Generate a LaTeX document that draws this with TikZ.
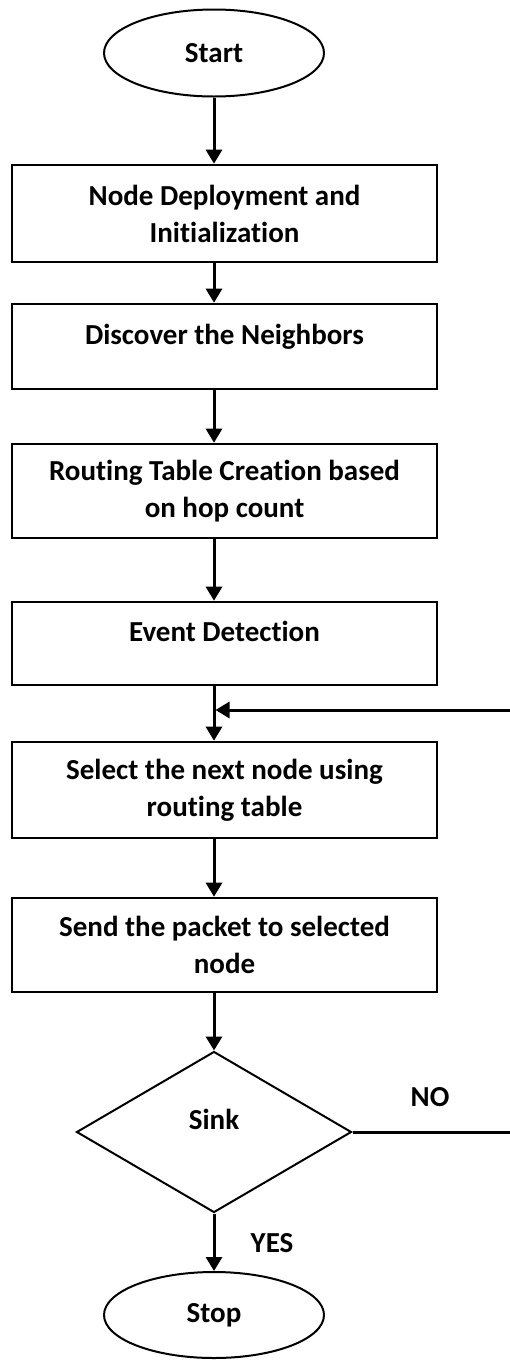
\documentclass[tikz,border=0pt]{standalone}
\usepackage{fontspec}
\setmainfont{Carlito}[RawFeature={-liga;-clig;-calt;-ccmp;-rlig}]
\usetikzlibrary{shapes.geometric,arrows.meta}

\begin{document}
\begin{tikzpicture}[x=1pt,y=-1pt,font=\fontsize{29}{37}\selectfont\bfseries,
  procbox/.style={draw, line width=2.6pt, minimum width=425pt, align=center, inner sep=0pt},
  onebox/.style={procbox, text height=19pt, text depth=24pt},
  termnode/.style={draw, ellipse, line width=2pt, minimum width=220pt, minimum height=87pt, inner sep=0pt},
  decnode/.style={draw, diamond, line width=2pt, minimum width=275pt, minimum height=161pt, inner sep=0pt,
    text height=19pt, text depth=24pt},
  flowarrow/.style={-{Triangle[length=14pt,width=16pt]}, line width=3pt}]
\useasboundingbox (0,0) rectangle (510,1361);
\coordinate (col) at (214,0);
\node[termnode] (start) at (214,53) {Start};
\node[procbox, minimum height=97pt] (deploy) at (224.5,213.5) {Node Deployment and\\Initialization};
\node[onebox, minimum height=85pt] (discover) at (224.5,346.5) {Discover the Neighbors};
\node[procbox, minimum height=94pt] (routing) at (224.5,491) {Routing Table Creation based\\on hop count};
\node[onebox, minimum height=83pt] (event) at (224.5,643.5) {Event Detection};
\node[procbox, minimum height=96pt] (select) at (224.5,790) {Select the next node using\\routing table};
\node[procbox, minimum height=94pt] (send) at (224.5,945) {Send the packet to selected\\node};
\node[decnode] (sink) at (214,1132) {Sink};
\node[termnode, minimum height=86pt] (stop) at (214,1315) {Stop};
\node (no) at (430,1097) {NO};
\node (yes) at (272,1243) {YES};
% main flow
\draw[flowarrow] (start.south) -- (start.south |- deploy.north);
\draw[flowarrow] (deploy.south -| col) -- (discover.north -| col);
\draw[flowarrow] (discover.south -| col) -- (routing.north -| col);
\draw[flowarrow] (routing.south -| col) -- (event.north -| col);
\draw[flowarrow] (event.south -| col) -- (select.north -| col);
\draw[flowarrow] (select.south -| col) -- (send.north -| col);
\draw[flowarrow] (send.south -| col) -- (sink.north);
\draw[flowarrow] (sink.south) -- (stop.north);
% loop back
\coordinate (loop) at (513,710);
\draw[flowarrow] (sink.east) -- (sink.east -| loop) -- (loop) -- ([xshift=1.5pt]loop -| col);
\end{tikzpicture}
\end{document}
